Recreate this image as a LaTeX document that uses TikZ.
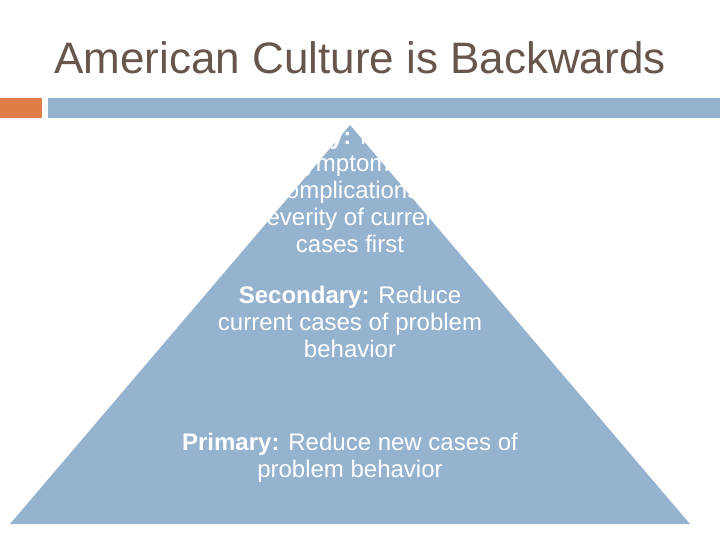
\documentclass[tikz,border=0pt]{standalone}
\usepackage{fontspec}
\setmainfont{Liberation Sans}
\definecolor{pblue}{RGB}{149,179,207}
\definecolor{porange}{RGB}{224,124,70}
\definecolor{ptitle}{RGB}{102,86,76}
\begin{document}
\begin{tikzpicture}[x=1pt,y=-1pt,
  lbl/.style={text=white,align=center,font=\fontsize{24}{27}\selectfont,inner sep=0pt}]
\useasboundingbox (0,0) rectangle (720,540);
\node[text=ptitle,font=\fontsize{44}{48}\selectfont] (title) at (360,58) {American Culture is Backwards};
\fill[porange] (0,98) rectangle (42,118);
\fill[pblue] (48,98) rectangle (720,118);
\fill[pblue] (350,125) coordinate (apex) -- (690,524) coordinate (br) -- (10,524) coordinate (bl) -- cycle;
\node[lbl,anchor=north] (tert) at (350,127) {\textbf{Tertiary:} Reduce\\symptoms,\\complications,\\severity of current\\cases first};
\node[lbl,anchor=north] (sec) at (350,286) {\textbf{Secondary:} Reduce\\current cases of problem\\behavior};
\node[lbl,anchor=north] (prim) at (350,433) {\textbf{Primary:} Reduce new cases of\\problem behavior};
\end{tikzpicture}
\end{document}
